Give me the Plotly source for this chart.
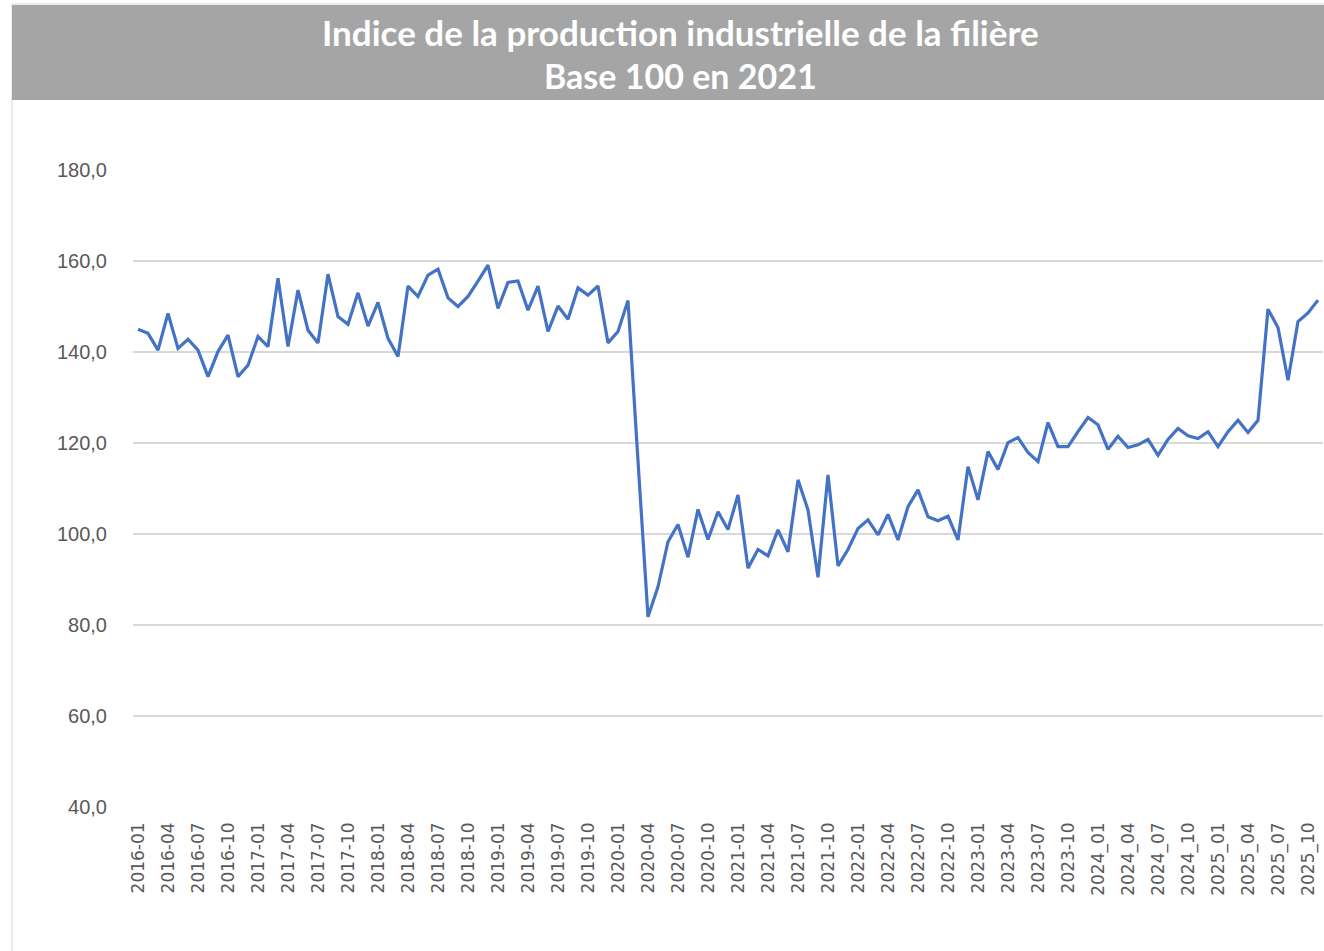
import plotly.graph_objects as go

years = [2016, 2017, 2018, 2019, 2020, 2021, 2022, 2023, 2024, 2025]
months = ["01", "02", "03", "04", "05", "06", "07", "08", "09", "10", "11", "12"]
n_months_last_year = 11

categories = []
for y in years:
    sep = "_" if y >= 2024 else "-"
    nm = n_months_last_year if y == years[-1] else 12
    for m in months[:nm]:
        categories.append(f"{y}{sep}{m}")

values = [
    145.0, 144.1, 140.4, 148.5, 140.8, 142.8, 140.4, 134.6, 140.1, 143.7, 134.6, 137.1,
    143.4, 141.2, 156.2, 141.2, 153.6, 144.8, 142.0, 157.1, 147.8, 146.1, 153.0, 145.7,
    150.9, 143.0, 139.0, 154.5, 152.2, 156.9, 158.2, 151.9, 150.0, 152.2, 155.6, 159.1,
    149.6, 155.3, 155.6, 149.2, 154.5, 144.5, 150.1, 147.2, 154.1, 152.5, 154.5, 142.0,
    144.5, 151.3, 116.0, 81.8, 88.4, 98.3, 102.1, 94.9, 105.4, 98.8, 104.9, 101.0,
    108.6, 92.5, 96.6, 95.2, 100.9, 96.1, 111.9, 105.3, 90.5, 113.0, 93.0, 96.6,
    101.2, 103.1, 99.8, 104.3, 98.7, 106.0, 109.7, 103.8, 102.9, 103.9, 98.7, 114.8,
    107.5, 118.1, 114.2, 120.1, 121.2, 117.9, 115.9, 124.5, 119.2, 119.2, 122.5, 125.6,
    124.0, 118.6, 121.5, 119.0, 119.6, 120.8, 117.3, 120.8, 123.2, 121.6, 121.0, 122.5,
    119.2, 122.5, 125.0, 122.3, 125.0, 149.4, 145.4, 133.8, 146.7, 148.6, 151.4,
]

tick_labels = categories[::3]
y_ticks = [40, 60, 80, 100, 120, 140, 160, 180]
title_lines = ["Indice de la production industrielle de la filière", "Base 100 en 2021"]

W, H = 1324, 951
L, R, T, B = 133, 1, 170, 144
pw = W - L - R
ph = H - T - B


def px_x(p):
    return (p - L) / pw


def px_y(p):
    return (H - B - p) / ph


fig = go.Figure()
fig.add_trace(go.Scatter(
    x=categories, y=values, mode="lines",
    line=dict(color="#4472C4", width=3.2),
    showlegend=False, hoverinfo="x+y",
))

fig.update_layout(
    width=W, height=H,
    margin=dict(l=L, r=R, t=T, b=B),
    paper_bgcolor="white", plot_bgcolor="white",
    separators=", ",
    font=dict(family="Liberation Sans, Arial", color="#595959"),
    xaxis=dict(
        type="category", categoryorder="array", categoryarray=categories,
        range=[-0.5, len(categories) - 0.5],
        tickmode="array", tickvals=tick_labels, ticktext=tick_labels,
        tickangle=-90, tickfont=dict(family="DejaVu Sans", size=17, color="#595959"),
        showgrid=False, showline=False, zeroline=False, ticks="",
        ticklabelstandoff=11,
    ),
    yaxis=dict(
        range=[40, 180], tickvals=y_ticks, tickformat=".1f",
        tickfont=dict(family="Liberation Sans, Arial", size=20, color="#595959"),
        showgrid=True, gridcolor="#D9D9D9", gridwidth=2,
        zeroline=False, showline=False, ticks="",
        ticklabelstandoff=25,
    ),
    shapes=[
        dict(type="rect", xref="paper", yref="paper",
             x0=px_x(12), x1=px_x(1340), y0=px_y(970), y1=px_y(4),
             line=dict(color="#D9D9D9", width=1), fillcolor="rgba(0,0,0,0)", layer="below"),
        dict(type="rect", xref="paper", yref="paper",
             x0=px_x(12), x1=px_x(1340), y0=px_y(100), y1=px_y(5),
             line=dict(width=0), fillcolor="#A5A5A5", layer="above"),
    ],
    annotations=[
        dict(xref="paper", yref="paper", x=px_x(680), y=px_y(32),
             text=f"<b>{title_lines[0]}</b>", showarrow=False,
             font=dict(family="Lato", size=35, color="white"),
             xanchor="center", yanchor="middle"),
        dict(xref="paper", yref="paper", x=px_x(680), y=px_y(75),
             text=f"<b>{title_lines[1]}</b>", showarrow=False,
             font=dict(family="Lato", size=34, color="white"),
             xanchor="center", yanchor="middle"),
    ],
)

fig.write_html(
    "out.html",
    config={"displayModeBar": False},
    post_script="document.body.style.margin='0';document.body.style.overflow='hidden';",
)
